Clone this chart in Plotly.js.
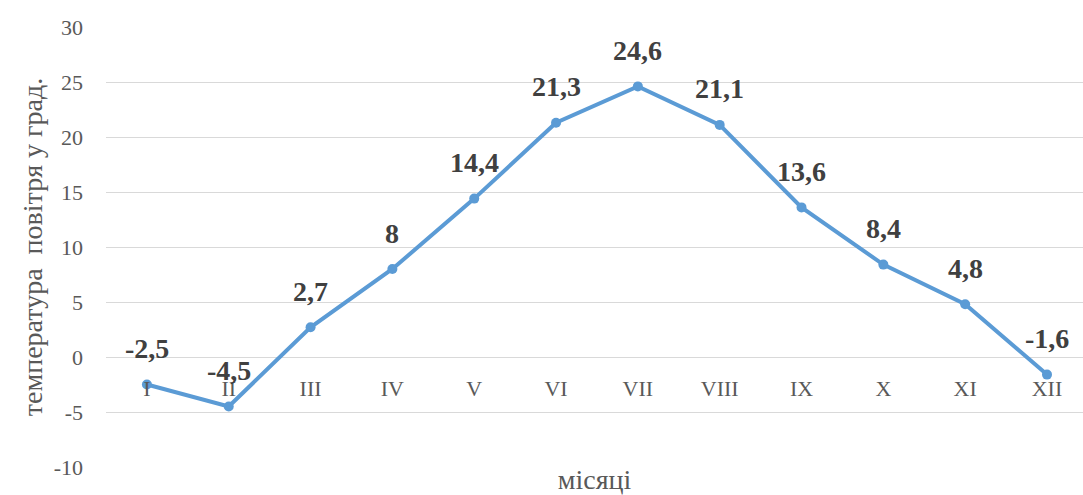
<!DOCTYPE html>
<html>
<head>
<meta charset="utf-8">
<script src="https://cdn.plot.ly/plotly-3.0.1.min.js"></script>
<style>html,body{margin:0;padding:0;background:#fff;}#chart{width:1083px;height:495px;}</style>
</head>
<body>
<div id="chart"></div>
<script>
const months = ["I","II","III","IV","V","VI","VII","VIII","IX","X","XI","XII"];
const temps = [-2.5, -4.5, 2.7, 8, 14.4, 21.3, 24.6, 21.1, 13.6, 8.4, 4.8, -1.6];
const yTicks = [-10, -5, 0, 5, 10, 15, 20, 25, 30];
const xTitle = "місяці";
const yTitle = "температура  повітря у град.";

const serif = "'Liberation Serif', 'Times New Roman', serif";
const gray = "#595959";

const trace = {
  x: months,
  y: temps,
  type: "scatter",
  mode: "lines+markers",
  line: {color: "#5B9BD5", width: 4},
  marker: {color: "#5B9BD5", size: 10, symbol: "circle"},
  hoverinfo: "skip"
};

const annotations = months.map((m, i) => ({
  x: m, y: temps[i], xref: "x", yref: "y",
  text: "<b>" + String(temps[i]).replace(".", ",") + "</b>",
  showarrow: false, yshift: 36,
  font: {family: serif, size: 28, color: "#404040"}
}));

const layout = {
  width: 1083, height: 495,
  margin: {l: 106, r: 0, t: 27, b: 28},
  paper_bgcolor: "#fff", plot_bgcolor: "#fff",
  showlegend: false,
  font: {family: serif},
  xaxis: {
    type: "category",
    range: [-0.5, 11.44],
    anchor: "free", position: 0.25,
    showgrid: false, zeroline: false,
    showline: false, ticks: "",
    ticklabelstandoff: 16,
    tickfont: {family: serif, size: 22, color: gray},
    title: {text: xTitle, standoff: 70, font: {family: serif, size: 28, color: gray}}
  },
  yaxis: {
    range: [-10, 30],
    tickvals: yTicks,
    ticktext: yTicks.map(String),
    showgrid: true, gridcolor: "#d9d9d9", gridwidth: 1,
    zeroline: false, showline: false, ticks: "",
    ticklabelstandoff: 22,
    tickfont: {family: serif, size: 22, color: gray},
    title: {text: yTitle, standoff: 2, font: {family: serif, size: 28, color: gray}}
  },
  annotations: annotations
};

Plotly.newPlot("chart", [trace], layout, {displayModeBar: false, staticPlot: true});
</script>
</body>
</html>
